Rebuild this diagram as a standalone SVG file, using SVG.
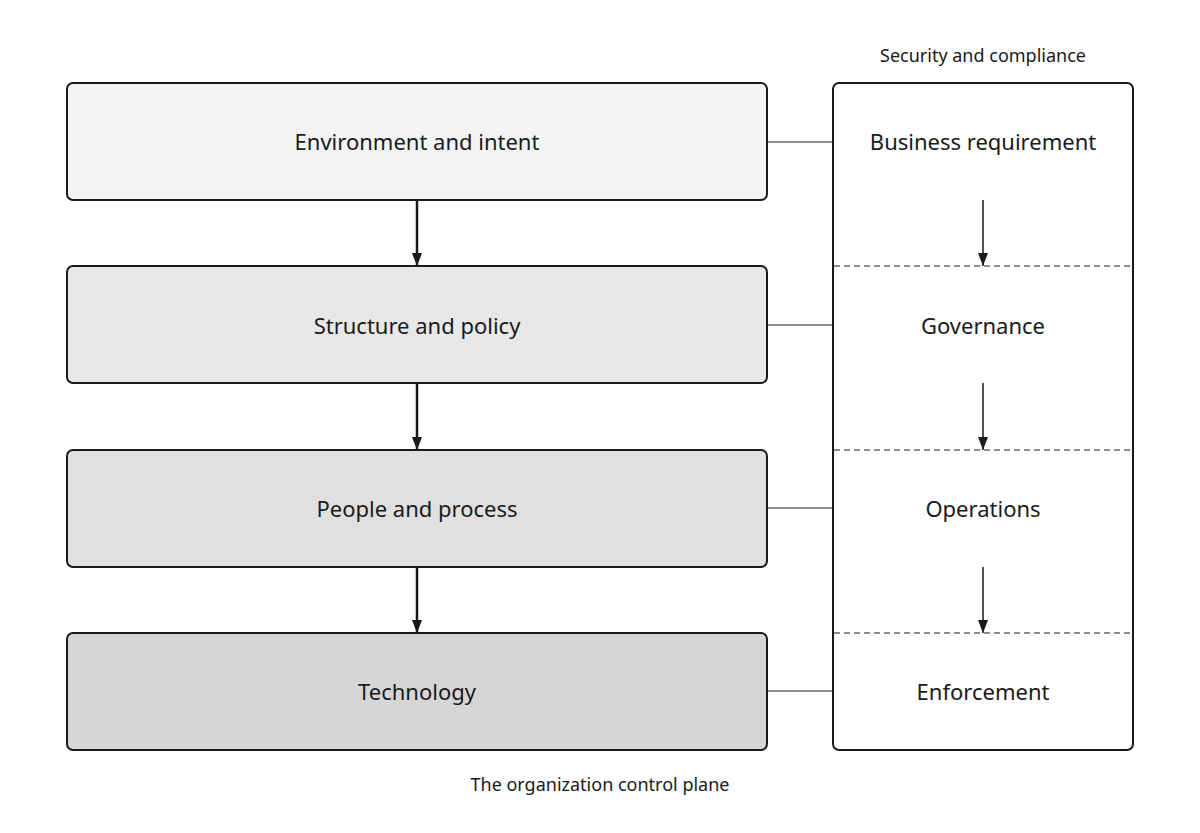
<svg xmlns="http://www.w3.org/2000/svg" width="1200" height="833" viewBox="0 0 1200 833">
<style>
.n{stroke:#1a1a1a;stroke-width:2}
.t{font-family:"Noto Sans","Open Sans",sans-serif;font-size:22px;fill:#1a1a1a;text-anchor:middle}
.s{font-family:"Noto Sans","Open Sans",sans-serif;font-size:18px;fill:#1a1a1a;text-anchor:middle}
.c{stroke:#1a1a1a;fill:none}
</style>
<defs>
<marker id="a" viewBox="0 0 10 10" refX="10" refY="5" markerWidth="5" markerHeight="6" markerUnits="userSpaceOnUse" orient="auto"><path d="M0,0L10,5L0,10z" fill="#1a1a1a"/></marker>
<marker id="b" viewBox="0 0 10 10" refX="10" refY="5" markerWidth="10" markerHeight="14" markerUnits="userSpaceOnUse" orient="auto-start-reverse" preserveAspectRatio="none"><path d="M0,0L10,5L0,10z" fill="#1a1a1a"/></marker>
<marker id="m" viewBox="0 0 10 10" refX="10" refY="5" markerWidth="13" markerHeight="10" markerUnits="userSpaceOnUse" orient="auto" preserveAspectRatio="none"><path d="M0,0L10,5L0,10z" fill="#1a1a1a"/></marker>
</defs>
<rect width="1200" height="833" fill="#fff"/>
<g id="n1"><rect class="n" x="67" y="83" width="700" height="117" rx="6" fill="#f4f4f4"/><text class="t" x="417" y="150">Environment and intent</text></g>
<g id="n2"><rect class="n" x="67" y="266" width="700" height="117" rx="6" fill="#e8e8e8"/><text class="t" x="417" y="334">Structure and policy</text></g>
<g id="n3"><rect class="n" x="67" y="450" width="700" height="117" rx="6" fill="#e0e0e0"/><text class="t" x="417" y="517">People and process</text></g>
<g id="n4"><rect class="n" x="67" y="633" width="700" height="117" rx="6" fill="#d6d6d6"/><text class="t" x="417" y="700">Technology</text></g>
<g id="sec"><rect class="n" x="833" y="83" width="300" height="667" rx="6" fill="#fff"/>
<text class="t" x="983" y="150">Business requirement</text>
<text class="t" x="983" y="334">Governance</text>
<text class="t" x="983" y="517">Operations</text>
<text class="t" x="983" y="700">Enforcement</text>
<path d="M834,266H1132M834,450H1132M834,633H1132" stroke="#1a1a1a" stroke-dasharray="6,4"/>
</g>
<g id="connectors">
<path class="c" stroke-width="2.5" marker-end="url(#m)" d="M417,200V266"/>
<path class="c" stroke-width="2.5" marker-end="url(#m)" d="M417,383V450"/>
<path class="c" stroke-width="2.5" marker-end="url(#m)" d="M417,567V633"/>
<path class="c" d="M767,142H833M767,325H833M767,508H833M767,691H833"/>
<path class="c" stroke-width="1.5" marker-end="url(#m)" d="M983,200V266" style="--x:0"/>
<path class="c" stroke-width="1.5" marker-end="url(#m)" d="M983,383V450"/>
<path class="c" stroke-width="1.5" marker-end="url(#m)" d="M983,567V633"/>
</g>
<text class="s" x="983" y="62">Security and compliance</text>
<text class="s" x="600" y="791">The organization control plane</text>
</svg>
